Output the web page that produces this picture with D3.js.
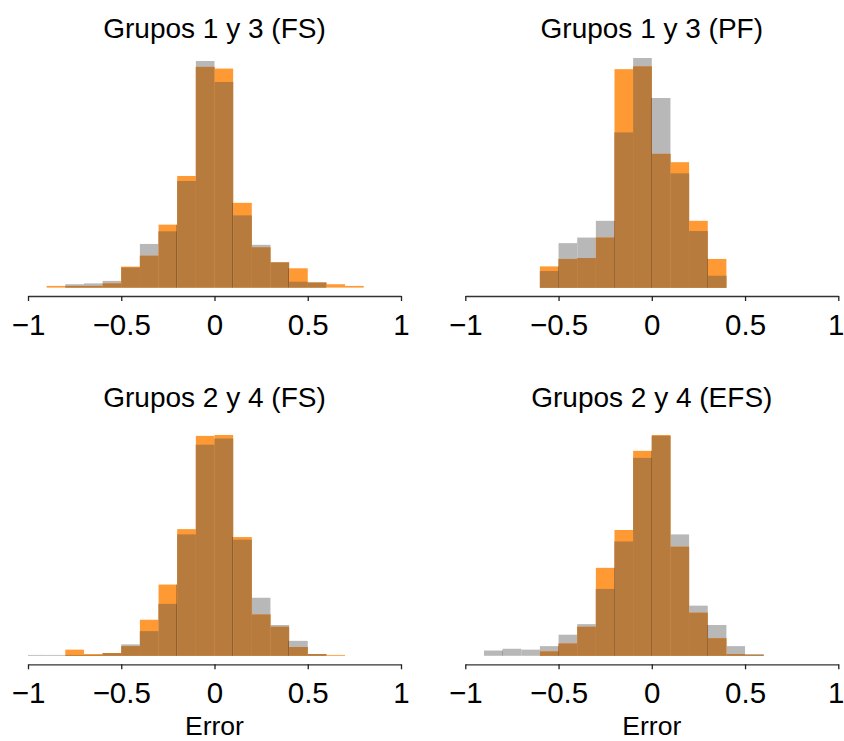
<!DOCTYPE html>
<html>
<head>
<meta charset="utf-8">
<script src="https://cdn.jsdelivr.net/npm/d3@7"></script>
<style>
  html, body { margin: 0; padding: 0; background: #fff; }
  svg { display: block; font-family: "Liberation Sans", Arial, Helvetica, sans-serif; }
</style>
</head>
<body>
<svg id="chart" width="844" height="741"></svg>
<script>
// Left edges of the histogram bins (width 0.1)
const binStarts = [-1.0, -0.9, -0.8, -0.7, -0.6, -0.5, -0.4, -0.3, -0.2, -0.1,
                    0.0,  0.1,  0.2,  0.3,  0.4,  0.5,  0.6,  0.7,  0.8,  0.9];
const binWidth = 0.1;

const titles = ["Grupos 1 y 3 (FS)", "Grupos 1 y 3 (PF)", "Grupos 2 y 4 (FS)", "Grupos 2 y 4 (EFS)"];
const tickValues = [-1, -0.5, 0, 0.5, 1];
const tickLabels = ["\u22121", "\u22120.5", "0", "0.5", "1"];
const xLabel = "Error";

// Density per bin: grey series and orange series, one pair per panel
const greyFS13   = [0, 0, 0.04, 0.05, 0.08, 0.24, 0.52, 0.67, 1.27, 2.70, 2.45, 0.86, 0.51, 0.30, 0.07, 0.06, 0, 0, 0, 0];
const orangeFS13 = [0, 0.02, 0.02, 0.02, 0.05, 0.25, 0.38, 0.75, 1.33, 2.63, 2.61, 1.01, 0.48, 0.30, 0.23, 0.06, 0.04, 0.02, 0, 0];

const greyPF13   = [0, 0, 0, 0, 0.18, 0.48, 0.54, 0.72, 1.67, 2.47, 2.04, 1.23, 0.61, 0.13, 0, 0, 0, 0, 0, 0];
const orangePF13 = [0, 0, 0, 0, 0.23, 0.31, 0.32, 0.54, 2.35, 2.38, 1.44, 1.35, 0.72, 0.31, 0, 0, 0, 0, 0, 0];

const greyFS24   = [0.01, 0.01, 0.01, 0.01, 0.03, 0.13, 0.28, 0.59, 1.38, 2.40, 2.47, 1.32, 0.66, 0.35, 0.17, 0.02, 0, 0, 0, 0];
const orangeFS24 = [0, 0, 0.07, 0.02, 0.03, 0.11, 0.41, 0.81, 1.44, 2.50, 2.51, 1.35, 0.47, 0.33, 0.10, 0.02, 0.01, 0, 0, 0];

const greyEFS24   = [0, 0.06, 0.08, 0.07, 0.11, 0.24, 0.36, 0.76, 1.30, 2.25, 2.50, 1.38, 0.57, 0.35, 0.11, 0.02, 0, 0, 0, 0];
const orangeEFS24 = [0, 0, 0, 0, 0.05, 0.14, 0.33, 1.00, 1.43, 2.33, 2.51, 1.24, 0.49, 0.20, 0.02, 0.01, 0, 0, 0, 0];

// Bin edges where a faint darker divider shows inside the bars
const dividersFS13  = [-0.2, 0.1, 0.4];
const dividersPF13  = [-0.5, -0.2, 0.0, 0.3];
const dividersFS24  = [-0.2, 0.1, 0.4];
const dividersEFS24 = [-0.8, -0.5, -0.2, 0.0, 0.3];

const series = [
  { grey: greyFS13,  orange: orangeFS13,  dividers: dividersFS13 },
  { grey: greyPF13,  orange: orangePF13,  dividers: dividersPF13 },
  { grey: greyFS24,  orange: orangeFS24,  dividers: dividersFS24 },
  { grey: greyEFS24, orange: orangeEFS24, dividers: dividersEFS24 }
];

// Panel layout (pixels)
const layout = [
  { x0: 28,    x1: 401,   base: 287.6, top: 61,  axisY: 296,   titleY: 38,    xlab: false },
  { x0: 465.3, x1: 838.3, base: 287.8, top: 58,  axisY: 296,   titleY: 38,    xlab: false },
  { x0: 28,    x1: 401,   base: 655.8, top: 435, axisY: 664.3, titleY: 406.5, xlab: true },
  { x0: 465.3, x1: 838.3, base: 655.8, top: 435, axisY: 664.3, titleY: 406.5, xlab: true }
];

const WIDTH = 844;
const COLOR_GREY = "#b8b8b8";
const COLOR_ORANGE = "#ff9933";
const COLOR_BOTH = "#b67b3d";

const svg = d3.select("#chart");

layout.forEach((p, k) => {
  const s = series[k];
  const g = svg.append("g");

  const x = d3.scaleLinear().domain([-1, 1]).range([p.x0, p.x1]);
  const y = d3.scaleLinear()
    .domain([0, d3.max(s.grey.concat(s.orange))])
    .range([p.base, p.top]);

  const bins = binStarts.map((b, i) => ({
    start: b, grey: s.grey[i], orange: s.orange[i],
    both: Math.min(s.grey[i], s.orange[i])
  }));

  const drawLayer = (key, color) => {
    g.append("g").selectAll("rect")
      .data(bins.filter(d => d[key] > 0))
      .join("rect")
      .attr("x", d => x(d.start))
      .attr("width", d => x(d.start + binWidth) - x(d.start))
      .attr("y", d => y(d[key]))
      .attr("height", d => y(0) - y(d[key]))
      .attr("fill", color);
  };
  drawLayer("grey", COLOR_GREY);
  drawLayer("orange", COLOR_ORANGE);
  drawLayer("both", COLOR_BOTH);

  // faint divider lines inside the overlapping bars
  const binAt = v => bins.find(d => Math.abs(d.start - v) < 1e-6);
  const binBefore = v => bins.find(d => Math.abs(d.start + binWidth - v) < 1e-6);
  g.append("g").selectAll("line")
    .data(s.dividers)
    .join("line")
    .attr("x1", v => Math.round(x(v)) - 0.5)
    .attr("x2", v => Math.round(x(v)) - 0.5)
    .attr("y1", y(0))
    .attr("y2", v => {
      const a = binBefore(v), b = binAt(v);
      const h = Math.min(Math.max(a.grey, a.orange), Math.max(b.grey, b.orange));
      return y(h);
    })
    .attr("stroke", "#000")
    .attr("stroke-opacity", 0.22)
    .attr("stroke-width", 1);

  // x axis
  const axis = d3.axisBottom(x)
    .tickValues(tickValues)
    .tickFormat((d, i) => tickLabels[i])
    .tickSizeOuter(0)
    .tickSizeInner(5);
  const ax = g.append("g")
    .attr("transform", `translate(0,${p.axisY})`)
    .call(axis);
  ax.select(".domain").attr("stroke", "#333").attr("stroke-width", 1.3);
  ax.selectAll(".tick line").attr("stroke", "#222").attr("stroke-width", 1.3);
  ax.selectAll(".tick text")
    .attr("y", 39)
    .attr("dy", 0)
    .attr("fill", "#000")
    .style("font-size", "29.5px")
    .style("font-family", "'Liberation Sans', Arial, sans-serif");

  // keep labels at the right edge inside the drawing
  ax.selectAll(".tick").each(function (d) {
    const t = d3.select(this).select("text");
    const half = t.node().getComputedTextLength() / 2;
    const overflow = x(d) + half - WIDTH;
    if (overflow > 0) t.attr("x", -overflow);
  });

  // panel title
  g.append("text")
    .attr("x", x(0))
    .attr("y", p.titleY)
    .attr("text-anchor", "middle")
    .attr("fill", "#000")
    .style("font-size", "28px")
    .text(titles[k]);

  if (p.xlab) {
    g.append("text")
      .attr("x", x(0))
      .attr("y", 735)
      .attr("text-anchor", "middle")
      .attr("fill", "#000")
      .style("font-size", "26.5px")
      .text(xLabel);
  }
});
</script>
</body>
</html>
